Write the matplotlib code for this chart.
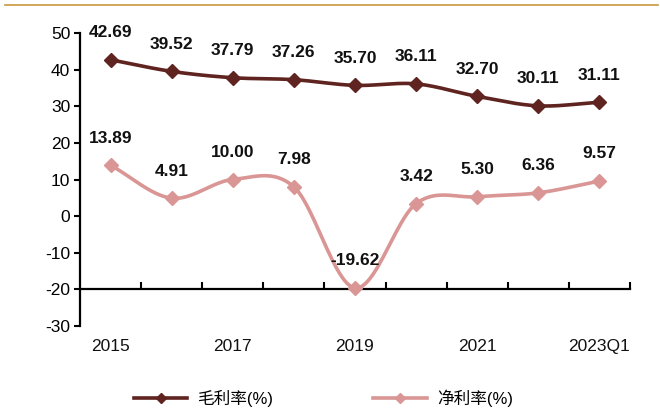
import numpy as np
import matplotlib
matplotlib.use("Agg")
import matplotlib.pyplot as plt
from matplotlib.lines import Line2D

plt.rcParams["font.family"] = ["Liberation Sans", "Noto Sans CJK SC", "DejaVu Sans"]
plt.rcParams["axes.unicode_minus"] = False

# --- data ------------------------------------------------------------------
periods = ["2015", "2016", "2017", "2018", "2019", "2020", "2021", "2022", "2023Q1"]
tick_labels = ["2015", "", "2017", "", "2019", "", "2021", "", "2023Q1"]
gross_margin = [42.69, 39.52, 37.79, 37.26, 35.70, 36.11, 32.70, 30.11, 31.11]
net_margin = [13.89, 4.91, 10.00, 7.98, -19.62, 3.42, 5.30, 6.36, 9.57]
series_names = ["毛利率(%)", "净利率(%)"]

GROSS_C = "#5F2320"
NET_C = "#D99694"


def smooth(xs, ys, n=24):
    """Catmull-Rom curve through the points (Excel-style smoothed line)."""
    xs = np.asarray(xs, float)
    ys = np.asarray(ys, float)
    px = np.concatenate([[2 * xs[0] - xs[1]], xs, [2 * xs[-1] - xs[-2]]])
    py = np.concatenate([[2 * ys[0] - ys[1]], ys, [2 * ys[-1] - ys[-2]]])
    out_x, out_y = [], []
    t = np.linspace(0, 1, n, endpoint=False)
    for i in range(1, len(px) - 2):
        for p, o in ((px, out_x), (py, out_y)):
            p0, p1, p2, p3 = p[i - 1], p[i], p[i + 1], p[i + 2]
            o.extend(0.5 * ((2 * p1) + (-p0 + p2) * t
                            + (2 * p0 - 5 * p1 + 4 * p2 - p3) * t ** 2
                            + (-p0 + 3 * p1 - 3 * p2 + p3) * t ** 3))
    out_x.append(xs[-1])
    out_y.append(ys[-1])
    return np.array(out_x), np.array(out_y)


fig = plt.figure(figsize=(6.6, 4.16), dpi=100)
ax = fig.add_axes([80 / 660, 1 - 326 / 416, 550 / 660, 293 / 416])

x = np.arange(len(periods))
for vals, color in ((gross_margin, GROSS_C), (net_margin, NET_C)):
    sx, sy = smooth(x, vals)
    ax.plot(sx, sy, color=color, lw=2.6, solid_capstyle="round", zorder=2)
    ax.plot(x, vals, ls="none", marker="D", ms=7.5, color=color, zorder=3)
    for xi, v in zip(x, vals):
        ax.annotate(f"{v:.2f}", (xi, v), xytext=(0, 19.5), textcoords="offset points",
                    ha="center", va="center", fontsize=12.5, fontweight="bold",
                    color="#111111")

ax.set_xlim(-0.5, len(periods) - 0.5)
ax.set_ylim(-30, 50)
ax.set_yticks(range(-30, 51, 10))
ax.tick_params(axis="y", direction="out", length=4, width=1.5, labelsize=12.5, pad=3)

# x axis crosses at -20, ticks at category boundaries, labels below the plot floor
ax.spines["bottom"].set_position(("data", -20))
ax.set_xticks(np.arange(0.5, len(periods), 1.0))
ax.set_xticklabels([])
ax.tick_params(axis="x", direction="in", length=5, width=1.5)
for xi, lab in zip(x, tick_labels):
    ax.annotate(lab, (xi, -30), xytext=(0, -15), textcoords="offset points",
                ha="center", va="center", fontsize=12.5, color="#111111",
                annotation_clip=False)
for sp in ("top", "right"):
    ax.spines[sp].set_visible(False)
for sp in ("left", "bottom"):
    ax.spines[sp].set_linewidth(1.6)

handles = [Line2D([0], [0], color=c, lw=2.6, marker="D", ms=5.5) for c in (GROSS_C, NET_C)]
fig.legend(handles, series_names, loc="center", bbox_to_anchor=(0.49, 1 - 398 / 416),
           ncol=2, frameon=False, fontsize=12, handlelength=3.2, columnspacing=6.0,
           handletextpad=0.6)

fig.add_artist(Line2D([0.008, 0.997], [1 - 4.5 / 416] * 2, color="#C9973F", lw=1.2))

fig.savefig("out.png", dpi=100)
